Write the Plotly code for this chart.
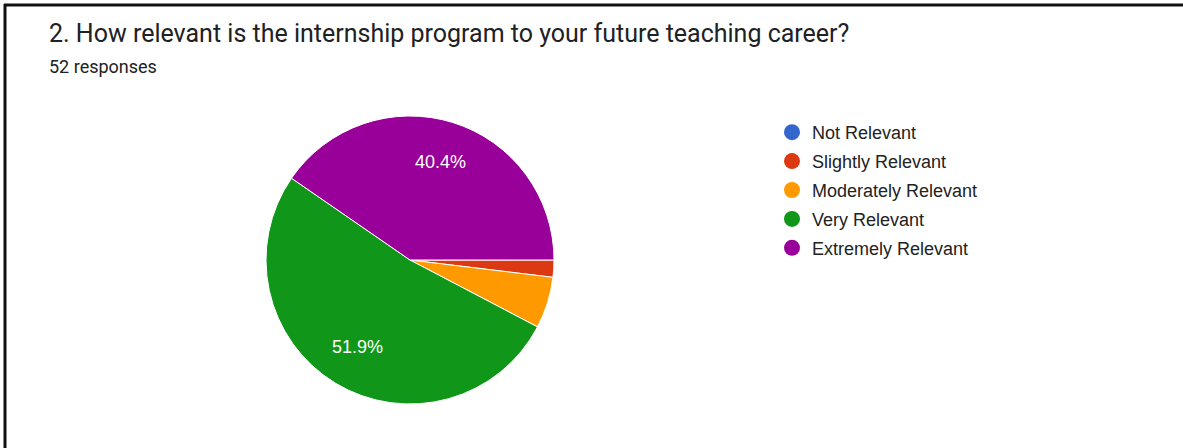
import math
import plotly.graph_objects as go

# Survey answers (52 responses)
categories = ["Not Relevant", "Slightly Relevant", "Moderately Relevant",
              "Very Relevant", "Extremely Relevant"]
counts = [0, 1, 3, 27, 21]
colors = ["#3366cc", "#dc3912", "#ff9900", "#109618", "#990099"]
question = "2. How relevant is the internship program to your future teaching career?"
subtitle = "52 responses"

W, H = 1183, 448
total = sum(counts)

# pie geometry (pixels)
CX, CY, R = 410, 260, 144

fig = go.Figure()
fig.add_trace(go.Pie(
    labels=categories,
    values=counts,
    sort=False,
    direction="clockwise",
    rotation=90,
    marker=dict(colors=colors, line=dict(color="white", width=1)),
    textinfo="none",
    showlegend=False,
    hoverinfo="label+percent",
    domain=dict(x=[(CX - R) / W, (CX + R) / W],
                y=[(H - CY - R) / H, (H - CY + R) / H]),
))

# percentage labels on the large slices, placed at each slice's mid-angle
annotations = []
cum = 0
for c in counts:
    share = c / total
    if share >= 0.1:
        mid = -(cum + c / 2) / total * 2 * math.pi
        px = CX + 0.71 * R * math.cos(mid)
        py = CY - 0.71 * R * math.sin(mid)
        annotations.append(dict(
            text=f"{share * 100:.1f}%", xref="paper", yref="paper",
            x=px / W, y=1 - py / H, xanchor="center", yanchor="middle",
            showarrow=False,
            font=dict(family="Liberation Sans, Arial", size=18, color="white"),
        ))
    cum += c

# circular legend markers
for i, (name, col) in enumerate(zip(categories, colors)):
    fig.add_trace(go.Scatter(
        x=[None], y=[None], mode="markers", name=name,
        marker=dict(symbol="circle", size=16, color=col),
        legendgroup=f"g{i}", showlegend=True, hoverinfo="skip",
    ))

annotations += [
    dict(text=question, xref="paper", yref="paper",
         x=47 / W, y=1 - 33 / H, xanchor="left", yanchor="middle",
         showarrow=False,
         font=dict(family="Roboto", size=25, color="#202124")),
    dict(text=subtitle, xref="paper", yref="paper",
         x=47 / W, y=1 - 66 / H, xanchor="left", yanchor="middle",
         showarrow=False,
         font=dict(family="Roboto", size=18, color="#202124")),
]

fig.update_layout(
    width=W, height=H,
    margin=dict(l=0, r=0, t=0, b=0),
    paper_bgcolor="white",
    plot_bgcolor="white",
    xaxis=dict(visible=False),
    yaxis=dict(visible=False),
    legend=dict(
        x=772 / W, xanchor="left",
        y=1 - 114 / H, yanchor="top",
        font=dict(family="Liberation Sans, Arial", size=18, color="#222222"),
        tracegroupgap=2.5,
        bgcolor="rgba(0,0,0,0)",
    ),
    annotations=annotations,
    shapes=[
        dict(type="line", xref="paper", yref="paper",
             x0=4 / W, x1=1, y0=1 - 5 / H, y1=1 - 5 / H,
             line=dict(color="#111111", width=3)),
        dict(type="line", xref="paper", yref="paper",
             x0=5 / W, x1=5 / W, y0=0, y1=1 - 4 / H,
             line=dict(color="#111111", width=3)),
    ],
)

fig.write_html("out.html")
